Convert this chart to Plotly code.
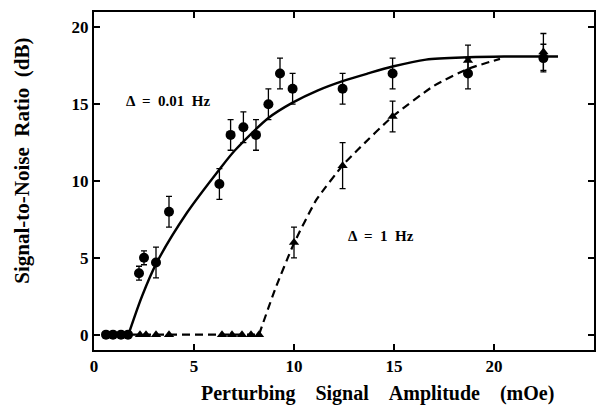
import plotly.graph_objects as go

# Δ = 0.01 Hz data (circles)
x_c = [0.6, 0.95, 1.35, 1.7, 2.25, 2.5, 3.1, 3.75, 6.27, 6.83, 7.47, 8.1, 8.72, 9.3, 9.93, 12.43, 14.93, 18.7, 22.47]
y_c = [0, 0, 0, 0, 4.0, 5.0, 4.7, 8.0, 9.8, 13.0, 13.5, 13.0, 15.0, 17.0, 16.0, 16.0, 17.0, 17.0, 18.0]
e_c = [0, 0, 0, 0, 0.45, 0.45, 1.0, 1.0, 1.0, 1.0, 1.0, 1.0, 1.0, 1.0, 1.0, 1.0, 1.0, 1.0, 0.9]

# Δ = 1 Hz data (triangles)
x_t = [2.3, 2.6, 3.1, 3.75, 6.4, 6.9, 7.4, 7.85, 8.25, 10.0, 12.43, 14.93, 18.7, 22.47]
y_t = [0, 0, 0, 0, 0, 0, 0, 0, 0, 6.0, 11.0, 14.2, 17.85, 18.4]
e_t = [0, 0, 0, 0, 0, 0, 0, 0, 0, 1.0, 1.5, 1.0, 1.0, 1.2]

# fitted curves
x_fit1 = [1.72, 2.4, 3.13, 4.63, 6.3, 7.05, 8.72, 9.93, 11.2, 12.43, 13.7, 14.93, 16.6, 18.7, 20.5, 23.2]
y_fit1 = [0, 2.5, 4.67, 7.9, 10.8, 12.0, 14.1, 15.1, 15.9, 16.5, 17.0, 17.45, 17.9, 18.05, 18.1, 18.1]

x_fit2_flat = [0.5, 8.25]
y_fit2_flat = [0, 0]
x_fit2 = [8.25, 9.05, 9.97, 11.13, 12.47, 13.2, 14.93, 17.0, 18.7, 20.3]
y_fit2 = [0, 2.93, 5.86, 8.8, 11.07, 12.05, 14.2, 16.2, 17.3, 17.95]

x_ticks = [0, 5, 10, 15, 20, 25]
y_ticks = [0, 5, 10, 15, 20]

FONT = "Liberation Serif"
SP = "\u00a0" * 4

fig = go.Figure()
dash_line = dict(color="black", width=2.2, dash="8px,5px")
fig.add_trace(go.Scatter(x=x_fit2_flat, y=y_fit2_flat, mode="lines", line=dash_line, hoverinfo="skip"))
fig.add_trace(go.Scatter(x=x_fit2, y=y_fit2, mode="lines", line=dict(**dash_line, shape="spline", smoothing=0.5), hoverinfo="skip"))
fig.add_trace(go.Scatter(x=x_fit1, y=y_fit1, mode="lines", line=dict(color="black", width=2.4, shape="spline", smoothing=0.8), hoverinfo="skip"))
fig.add_trace(go.Scatter(x=x_t, y=y_t, mode="markers", marker=dict(symbol="triangle-up", size=9, color="black"),
                         error_y=dict(type="data", array=e_t, color="black", thickness=1.3, width=3)))
fig.add_trace(go.Scatter(x=x_c, y=y_c, mode="markers", marker=dict(symbol="circle", size=10, color="black"),
                         error_y=dict(type="data", array=e_c, color="black", thickness=1.3, width=3)))

fig.add_annotation(x=1.5, y=15.2, text="Δ  =  0.01  Hz", showarrow=False, xanchor="left",
                   font=dict(family=FONT, size=15, color="black", weight="bold"))
fig.add_annotation(x=12.6, y=6.4, text="Δ  =  1  Hz", showarrow=False, xanchor="left",
                   font=dict(family=FONT, size=15, color="black", weight="bold"))

# axis titles
fig.add_annotation(xref="paper", yref="paper", x=0.567, y=-0.13, xanchor="center", yanchor="middle",
                   text=SP.join(["Perturbing", "Signal", "Amplitude", "(mOe)"]), showarrow=False,
                   font=dict(family=FONT, size=20, color="black", weight="bold"))
fig.add_annotation(xref="paper", yref="paper", x=-0.144, y=0.56, xanchor="center", yanchor="middle",
                   textangle=-90, text=("\u00a0" * 2).join(["Signal-to-Noise", "Ratio", "(dB)"]), showarrow=False,
                   font=dict(family=FONT, size=21, color="black", weight="bold"))

axis_common = dict(showgrid=False, zeroline=False, showline=True, linecolor="black", linewidth=2,
                   mirror="ticks", ticks="inside", ticklen=6, tickwidth=1.5, tickcolor="black",
                   tickfont=dict(family=FONT, size=17, color="black", weight="bold"))

fig.update_xaxes(range=[0, 25], tickvals=x_ticks, **axis_common)
fig.update_yaxes(range=[-1, 21], tickvals=y_ticks, **axis_common)

fig.update_layout(width=600, height=405, margin=dict(l=94, r=6, t=12, b=55, autoexpand=False),
                  paper_bgcolor="white", plot_bgcolor="white", showlegend=False)

fig.write_html("out.html", config={"displayModeBar": False},
               post_script="document.body.style.margin='0';")
